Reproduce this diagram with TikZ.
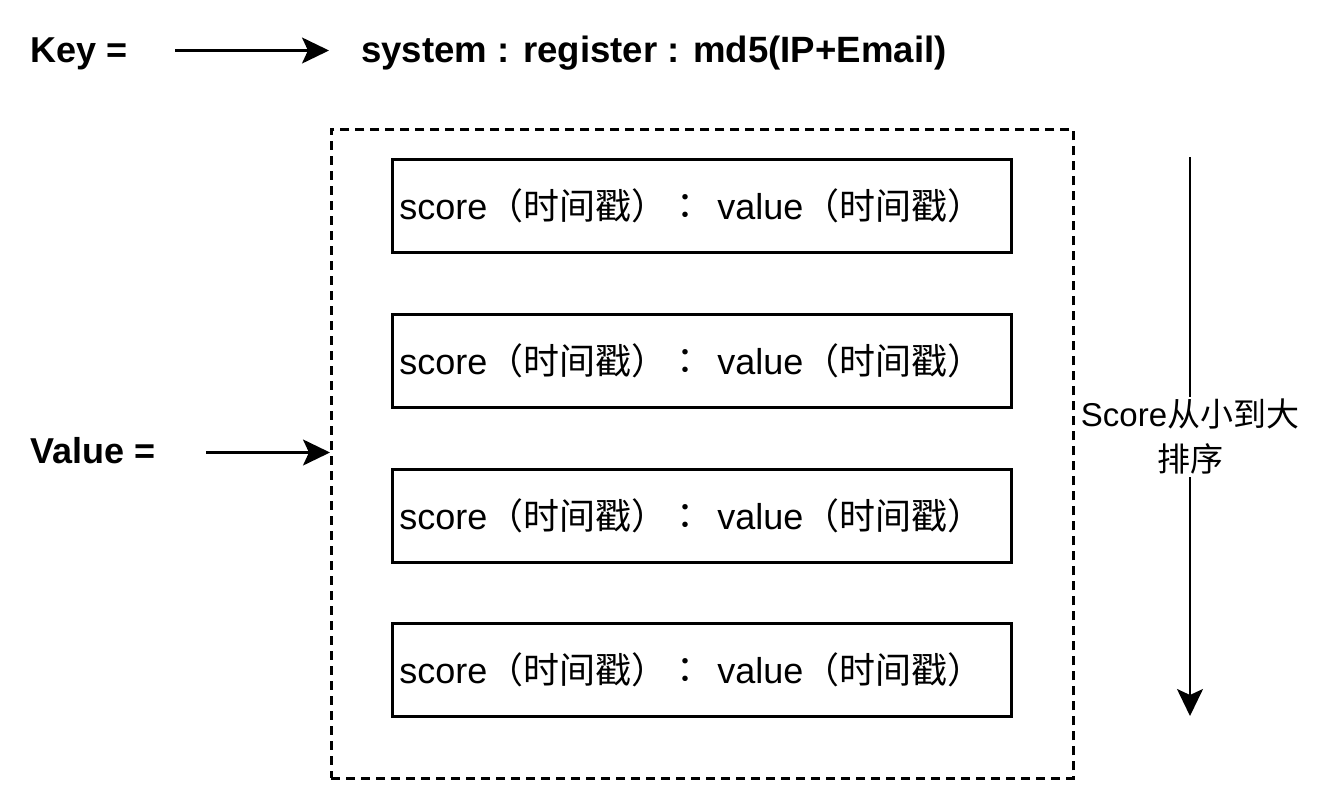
\documentclass[tikz,border=0pt]{standalone}
\usepackage{fontspec}
\setmainfont{Liberation Sans}
\newfontfamily\cjk{Noto Sans CJK SC}
\newfontfamily\cjktc{Noto Sans CJK TC}
\usetikzlibrary{arrows.meta}
\begin{document}
\begin{tikzpicture}[x=1pt,y=-1pt,
  rowbox/.style={draw,line width=2.5pt,minimum width=619pt,minimum height=93pt,
    text width=605pt,align=left,inner xsep=7pt,inner ysep=0pt,anchor=north west,
    font=\fontsize{36}{43}\selectfont},
  frame/.style={draw,line width=2.5pt,dash pattern=on 9pt off 6pt,
    minimum width=742pt,minimum height=649pt,inner sep=0pt,anchor=north west},
  lbl/.style={font=\fontsize{36}{43}\selectfont\bfseries,inner sep=0pt,anchor=base west},
  arr/.style={line width=2.2pt,-{Stealth[length=27pt,width=26pt,inset=6pt]}},
  side/.style={fill=white,align=center,inner sep=2pt,font=\fontsize{33}{45}\selectfont},
]
\useasboundingbox (0,0) rectangle (1323,795);
\fill[white] (0,0) rectangle (1323,795);

% Key line
\node[lbl] (key) at (30,62) {Key =};
\node[lbl,font=\fontsize{36.6}{44}\selectfont\bfseries] (sysk) at (361,62) {system : register : md5(IP+Email)};
\coordinate (ks) at (175,50.5);
\coordinate (ke) at (329,50.5);
\draw[arr] (ks) -- (ke);

% container
\node[frame] (frame) at (330,128) {};

% rows
\newcommand{\rowtext}{score{\cjk （时间戳）}{\cjktc ：}\hspace{14pt}value{\cjk （时间戳）}}
\node[rowbox] (r1) at (391,158) {\rowtext};
\node[rowbox] (r2) at (391,313) {\rowtext};
\node[rowbox] (r3) at (391,468) {\rowtext};
\node[rowbox] (r4) at (391,622) {\rowtext};

% Value line
\node[lbl] (val) at (30,463) {Value =};
\coordinate (vs) at (206,452.5);
\draw[arr] (vs) -- (vs -| frame.west);

% sort arrow
\coordinate (rs) at (1190,157);
\coordinate (re) at (1190,716);
\draw[arr] (rs) -- (re);
\node[side] (sortlbl) at (1190,437) {Score{\cjk 从小到大}\\{\cjk 排序}};
\end{tikzpicture}
\end{document}
